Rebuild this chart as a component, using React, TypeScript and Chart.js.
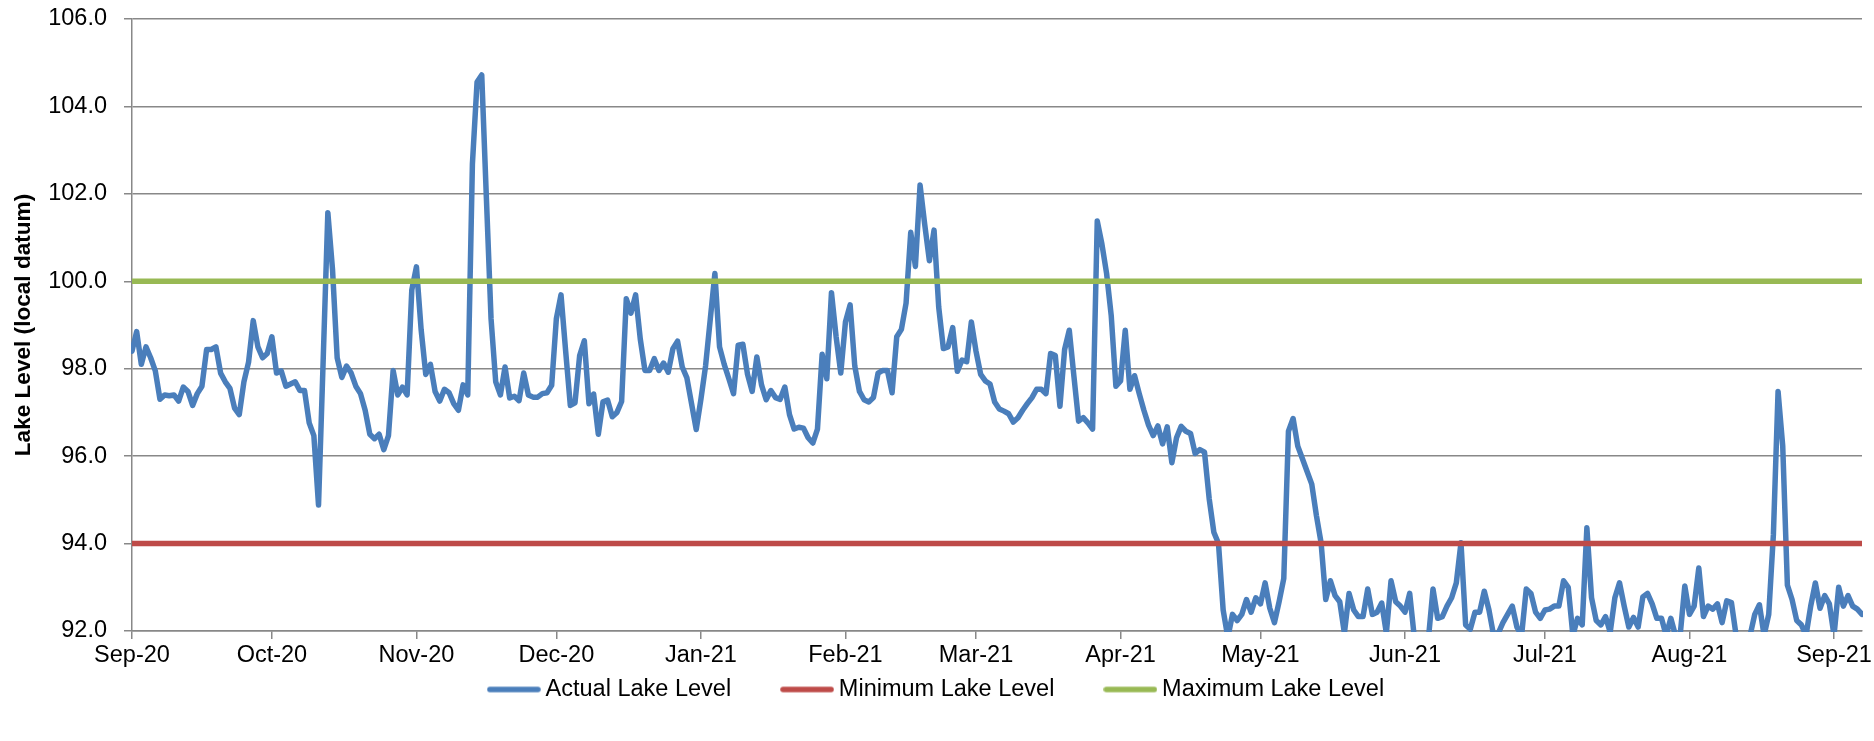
import React, { useEffect, useRef } from "react";
import { Chart, registerables } from "chart.js";

Chart.register(...registerables);

// Month tick positions (day index from 1 Sep 2020) and their labels
const monthTickDays = [0, 30, 61, 91, 122, 153, 181, 212, 242, 273, 303, 334, 365];
const monthTickLabels = [
  "Sep-20", "Oct-20", "Nov-20", "Dec-20", "Jan-21", "Feb-21", "Mar-21",
  "Apr-21", "May-21", "Jun-21", "Jul-21", "Aug-21", "Sep-21",
];

// Y axis ticks
const yTickValues = [92, 94, 96, 98, 100, 102, 104, 106];

// Reference levels
const minimumLevel = 94.0;
const maximumLevel = 100.0;

// Daily actual lake level, one array per month
const levelsSep20 = [
  98.4, 98.85, 98.1, 98.5, 98.25, 97.95, 97.3, 97.4, 97.38, 97.4,
  97.26, 97.58, 97.48, 97.16, 97.43, 97.6, 98.44, 98.44, 98.5, 97.9,
  97.7, 97.55, 97.1, 96.95, 97.7, 98.15, 99.1, 98.5, 98.25, 98.35,
];
const levelsOct20 = [
  98.73, 97.9, 97.95, 97.6, 97.65, 97.7, 97.5, 97.5, 96.76, 96.47,
  94.88, 98.2, 101.57, 100.27, 98.25, 97.8, 98.06, 97.9, 97.6, 97.43,
  97.05, 96.5, 96.4, 96.5, 96.15, 96.47, 97.96, 97.4, 97.58, 97.4, 99.8,
];
const levelsNov20 = [
  100.33, 98.9, 97.87, 98.1, 97.48, 97.26, 97.53, 97.45, 97.2, 97.05,
  97.63, 97.4, 102.68, 104.56, 104.72, 101.9, 99.14, 97.7, 97.4, 98.04,
  97.33, 97.37, 97.27, 97.9, 97.4, 97.35, 97.35, 97.43, 97.45, 97.62,
];
const levelsDec20 = [
  99.14, 99.69, 98.4, 97.16, 97.22, 98.3, 98.64, 97.2, 97.42, 96.5,
  97.24, 97.28, 96.9, 97.0, 97.25, 99.6, 99.27, 99.69, 98.68, 97.96,
  97.96, 98.23, 97.96, 98.13, 97.92, 98.46, 98.63, 98.04, 97.79, 97.2, 96.61,
];
const levelsJan21 = [
  97.3, 98.06, 99.12, 100.18, 98.5, 98.1, 97.77, 97.43, 98.54, 98.56,
  97.87, 97.48, 98.27, 97.63, 97.29, 97.5, 97.34, 97.3, 97.58, 96.95,
  96.62, 96.66, 96.64, 96.42, 96.3, 96.62, 98.33, 97.77, 99.74, 98.73, 97.9,
];
const levelsFeb21 = [
  99.07, 99.46, 98.06, 97.48, 97.29, 97.24, 97.34, 97.9, 97.96, 97.96,
  97.45, 98.73, 98.9, 99.5, 101.12, 100.34, 102.2, 101.3, 100.47, 101.17,
  99.41, 98.46, 98.5, 98.94, 97.94, 98.2, 98.16, 99.07,
];
const levelsMar21 = [
  98.4, 97.87, 97.72, 97.65, 97.24, 97.08, 97.03, 96.97, 96.78, 96.88,
  97.05, 97.2, 97.34, 97.53, 97.53, 97.43, 98.35, 98.3, 97.14, 98.44,
  98.88, 97.82, 96.8, 96.88, 96.76, 96.62, 101.38, 100.85, 100.18, 99.21, 97.6,
];
const levelsApr21 = [
  97.72, 98.88, 97.53, 97.84, 97.43, 97.05, 96.71, 96.47, 96.69, 96.28,
  96.67, 95.85, 96.42, 96.68, 96.57, 96.52, 96.06, 96.15, 96.09, 95.03,
  94.26, 94.0, 92.48, 91.85, 92.38, 92.24, 92.38, 92.72, 92.43, 92.76,
];
const levelsMay21 = [
  92.62, 93.1, 92.52, 92.19, 92.67, 93.2, 96.57, 96.86, 96.23, 95.94,
  95.65, 95.36, 94.64, 94.02, 92.72, 93.15, 92.81, 92.67, 91.95, 92.86,
  92.48, 92.33, 92.33, 92.96, 92.38, 92.43, 92.64, 91.95, 93.15, 92.67, 92.57,
];
const levelsJun21 = [
  92.43, 92.86, 91.85, 91.5, 91.5, 91.8, 92.96, 92.29, 92.33, 92.57,
  92.76, 93.1, 94.02, 92.14, 92.04, 92.43, 92.43, 92.91, 92.48, 91.9,
  91.95, 92.19, 92.38, 92.57, 92.09, 91.9, 92.96, 92.86, 92.43, 92.29,
];
const levelsJul21 = [
  92.48, 92.5, 92.57, 92.57, 93.15, 93.0, 91.9, 92.29, 92.14, 94.36,
  92.76, 92.24, 92.14, 92.33, 91.97, 92.76, 93.1, 92.57, 92.09, 92.31,
  92.09, 92.78, 92.86, 92.62, 92.29, 92.29, 91.9, 92.29, 91.9, 91.9, 93.03,
];
const levelsAug21 = [
  92.38, 92.57, 93.44, 92.33, 92.57, 92.5, 92.62, 92.19, 92.69, 92.65,
  91.9, 91.8, 91.85, 91.9, 92.38, 92.6, 91.9, 92.38, 94.21, 97.48,
  96.23, 93.05, 92.72, 92.24, 92.14, 91.9, 92.57, 93.1, 92.52, 92.81, 92.62,
];
const levelsSep21 = [91.9, 93.0, 92.57, 92.81, 92.57, 92.5, 92.38];

const FONT = "'Liberation Sans', Arial, sans-serif";
const LEGEND_FONT_SIZE = 23.5;
const LEGEND_PADDING = 56;
const LEGEND_CENTER_Y = 689.5;
const LEGEND_SHIFT_X = 8;
const LINE_WIDTH = 5.5;

const legendShift = {
  id: "legendShift",
  afterLayout(chart: any) {
    const lg = chart.legend;
    if (!lg) return;
    const newTop = LEGEND_CENTER_Y - LEGEND_PADDING - LEGEND_FONT_SIZE / 2;
    lg.top = newTop;
    lg.bottom = chart.height;
    lg.height = lg.bottom - lg.top;
    lg.left += LEGEND_SHIFT_X;
    lg.right += LEGEND_SHIFT_X;
  },
};

function legendSample(color: string) {
  const c = document.createElement("canvas");
  c.width = 54;
  c.height = 10;
  const g = c.getContext("2d");
  if (g) {
    g.strokeStyle = color;
    g.lineWidth = LINE_WIDTH;
    g.lineCap = "round";
    g.beginPath();
    g.moveTo(3, 5);
    g.lineTo(51, 5);
    g.stroke();
  }
  return c;
}

export default function App() {
  const canvasRef = useRef<HTMLCanvasElement | null>(null);

  useEffect(() => {
    if (!canvasRef.current) return;
    const allLevels = [
      ...levelsSep20, ...levelsOct20, ...levelsNov20, ...levelsDec20,
      ...levelsJan21, ...levelsFeb21, ...levelsMar21, ...levelsApr21,
      ...levelsMay21, ...levelsJun21, ...levelsJul21, ...levelsAug21,
      ...levelsSep21,
    ];
    const actual = allLevels.map((v, i) => ({ x: i, y: v }));
    const lastDay = allLevels.length - 1;
    const gridColor = "#888888";
    const gridWidth = 1.5;
    const blue = "#4A7EBB";
    const red = "#BE4B48";
    const green = "#98B954";

    const chart = new Chart(canvasRef.current, {
      type: "line",
      data: {
        datasets: [
          {
            label: "Actual Lake Level",
            data: actual,
            borderColor: blue,
            backgroundColor: blue,
            borderWidth: LINE_WIDTH,
            pointRadius: 0,
            pointStyle: legendSample(blue),
            tension: 0,
            borderJoinStyle: "round",
            borderCapStyle: "round",
            order: 3,
            clip: 1,
          },
          {
            label: "Minimum Lake Level",
            data: [
              { x: 0, y: minimumLevel },
              { x: lastDay, y: minimumLevel },
            ],
            borderColor: red,
            backgroundColor: red,
            borderWidth: LINE_WIDTH,
            pointRadius: 0,
            pointStyle: legendSample(red),
            borderCapStyle: "round",
            order: 2,
          },
          {
            label: "Maximum Lake Level",
            data: [
              { x: 0, y: maximumLevel },
              { x: lastDay, y: maximumLevel },
            ],
            borderColor: green,
            backgroundColor: green,
            borderWidth: LINE_WIDTH,
            pointRadius: 0,
            pointStyle: legendSample(green),
            borderCapStyle: "round",
            order: 1,
          },
        ],
      },
      options: {
        animation: false,
        responsive: true,
        maintainAspectRatio: false,
        layout: { autoPadding: false, padding: { left: 0, right: 12, top: 19, bottom: 0 } },
        scales: {
          x: {
            type: "linear",
            min: 0,
            max: lastDay,
            afterBuildTicks: (scale: any) => {
              scale.ticks = monthTickDays.map((v) => ({ value: v }));
            },
            afterFit: (scale: any) => {
              scale.height = 80;
              scale.paddingLeft = 0;
              scale.paddingRight = 0;
            },
            ticks: {
              autoSkip: false,
              maxRotation: 0,
              minRotation: 0,
              padding: 2,
              color: "#000",
              font: { family: FONT, size: 23.5 },
              callback: (value: any) => {
                const idx = monthTickDays.indexOf(Number(value));
                return idx >= 0 ? monthTickLabels[idx] : "";
              },
            },
            grid: {
              drawOnChartArea: false,
              drawTicks: true,
              tickLength: 8,
              color: gridColor,
              lineWidth: gridWidth,
            },
            border: { display: true, color: gridColor, width: gridWidth },
          },
          y: {
            type: "linear",
            min: 92,
            max: 106,
            afterBuildTicks: (scale: any) => {
              scale.ticks = yTickValues.map((v) => ({ value: v }));
            },
            afterFit: (scale: any) => {
              scale.width = 132;
              scale.paddingTop = 0;
              scale.paddingBottom = 0;
            },
            ticks: {
              padding: 17,
              color: "#000",
              font: { family: FONT, size: 23.5 },
              callback: (value: any) => Number(value).toFixed(1),
            },
            grid: {
              color: gridColor,
              lineWidth: gridWidth,
              drawTicks: true,
              tickLength: 8,
            },
            border: { display: true, color: gridColor, width: gridWidth },
            title: {
              display: true,
              text: "Lake Level (local datum)",
              color: "#000",
              font: { family: FONT, size: 22.6, weight: "bold" },
              padding: { top: 10, bottom: 0 },
            },
          },
        },
        plugins: {
          legend: {
            position: "bottom",
            maxHeight: 30,
            labels: {
              usePointStyle: true,
              pointStyleWidth: 40,
              padding: LEGEND_PADDING,
              color: "#000",
              font: { family: FONT, size: LEGEND_FONT_SIZE },
              sort: (a: any, b: any) => a.datasetIndex - b.datasetIndex,
            },
          },
          tooltip: { enabled: false },
        },
      } as any,
      plugins: [legendShift],
    });
    return () => chart.destroy();
  }, []);

  return (
    <div style={{ position: "absolute", left: 0, top: 0, width: 1874, height: 741 }}>
      <canvas ref={canvasRef} />
    </div>
  );
}
